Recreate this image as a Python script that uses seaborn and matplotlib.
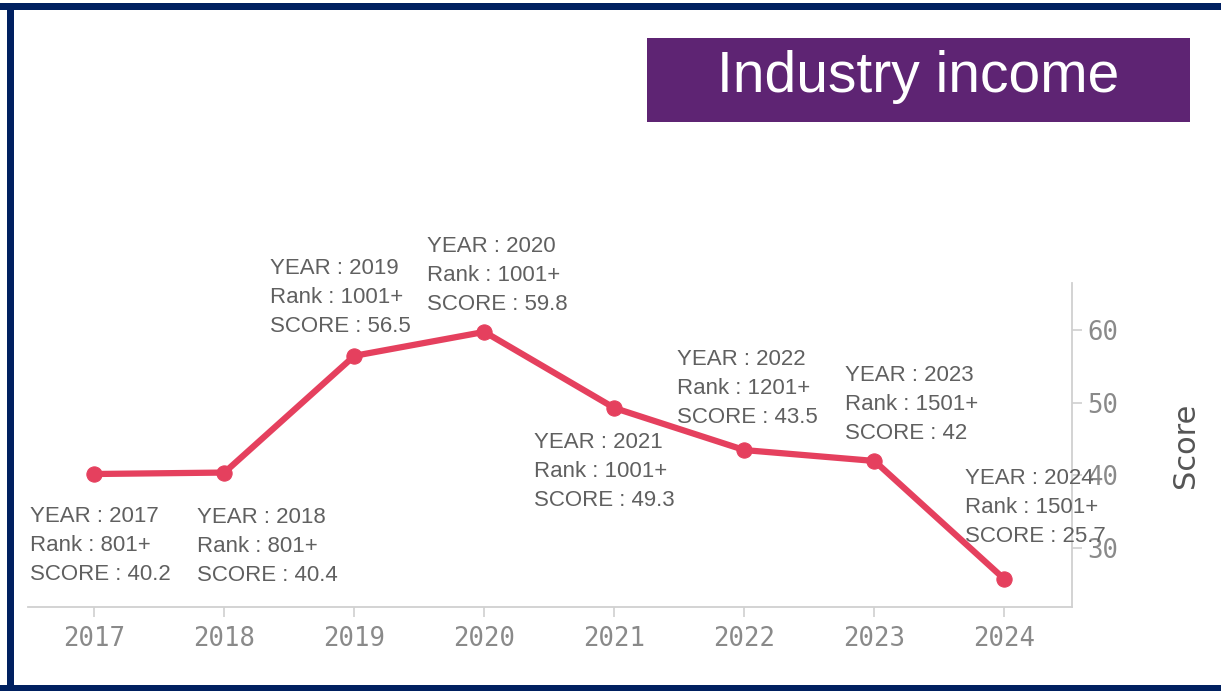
import matplotlib
matplotlib.use("Agg")
import matplotlib.pyplot as plt
import seaborn as sns
import pandas as pd
from matplotlib.patches import Rectangle

years = [2017, 2018, 2019, 2020, 2021, 2022, 2023, 2024]
scores = [40.2, 40.4, 56.5, 59.8, 49.3, 43.5, 42.0, 25.7]
ranks = ["801+", "801+", "1001+", "1001+", "1001+", "1201+", "1501+", "1501+"]
score_text = ["40.2", "40.4", "56.5", "59.8", "49.3", "43.5", "42", "25.7"]
y_ticks = [30, 40, 50, 60]

# label offsets (pixels from the point to the label's top-left corner)
label_offsets = [(-64, -32), (-27, -34), (-84, 98), (-57, 96),
                 (-80, -24), (-67, 101), (-29, 96), (-39, 111)]

df = pd.DataFrame({"year": years, "score": scores})

sns.set_style("white")
fig = plt.figure(figsize=(12.21, 6.91), dpi=100)
ax = fig.add_axes([0.023, 0.122, 0.855, 0.468])

line_color = "#e5405e"
sns.lineplot(data=df, x="year", y="score", ax=ax, color=line_color,
             linewidth=4.5, marker="o", markersize=11,
             markeredgecolor=line_color, clip_on=False)

for yr, sc, rk, st, (dx, dy) in zip(years, scores, ranks, score_text, label_offsets):
    ax.annotate(f"YEAR : {yr}\nRank : {rk}\nSCORE : {st}", xy=(yr, sc),
                xytext=(dx, dy), textcoords="offset pixels",
                ha="left", va="top", fontsize=16, color="#606060",
                family="Liberation Sans", linespacing=1.5,
                annotation_clip=False)

ax.set_xlim(2016.49, 2024.52)
ax.set_ylim(21.9, 66.5)
ax.set_xticks(years)
ax.set_yticks(y_ticks)
ax.yaxis.tick_right()
ax.yaxis.set_label_position("right")

for s in ["top", "left"]:
    ax.spines[s].set_visible(False)
for s in ["bottom", "right"]:
    ax.spines[s].set_color("#d0d0d0")
    ax.spines[s].set_linewidth(1.3)

ax.tick_params(axis="both", colors="#d0d0d0", labelcolor="#8a8a8a",
               length=7, width=1.2, labelsize=18.5)
ax.tick_params(axis="x", bottom=True, pad=7)
ax.tick_params(axis="y", right=True, pad=4)
for lbl in ax.get_xticklabels() + ax.get_yticklabels():
    lbl.set_family("DejaVu Sans Mono")

ax.set_xlabel("")
ax.set_ylabel("Score", fontsize=22, color="#555555", labelpad=38,
              family="DejaVu Sans")

# title box
fig.patches.append(Rectangle((647 / 1221, 1 - 122 / 691), 543 / 1221, 84 / 691,
                             transform=fig.transFigure, facecolor="#5e2473",
                             edgecolor="none", zorder=5))
fig.text(918 / 1221, 1 - 77 / 691, "Industry income", color="white",
         fontsize=41, family="Liberation Sans", ha="center", va="center",
         zorder=6)

# navy frame
navy = "#002060"
fig.patches.append(Rectangle((0, 1 - 10 / 691), 1, 7 / 691, transform=fig.transFigure,
                             facecolor=navy, edgecolor="none"))
fig.patches.append(Rectangle((7 / 1221, 0), 7 / 1221, 1 - 3 / 691, transform=fig.transFigure,
                             facecolor=navy, edgecolor="none"))
fig.patches.append(Rectangle((0, 0), 1, 6 / 691, transform=fig.transFigure,
                             facecolor=navy, edgecolor="none"))

fig.savefig("out.png", dpi=100)
